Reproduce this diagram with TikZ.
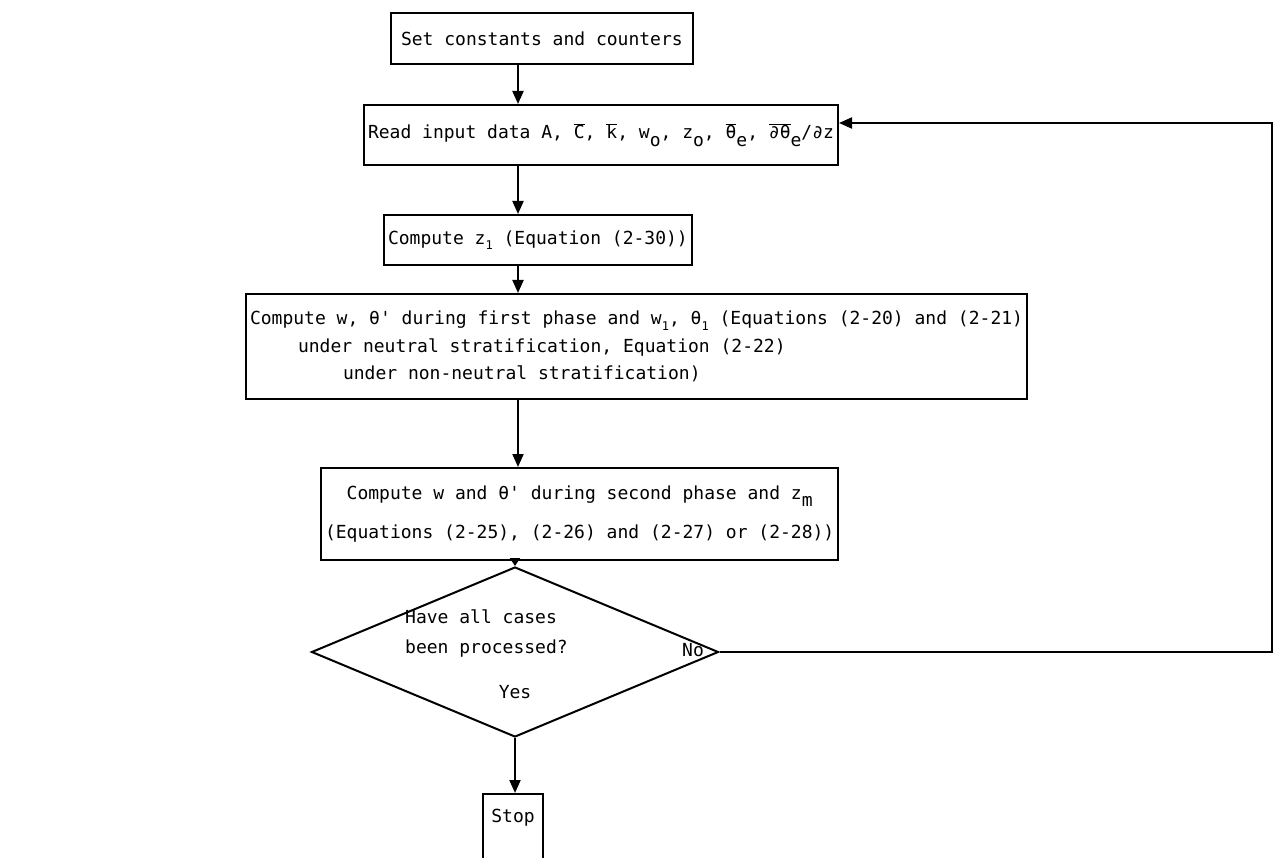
\documentclass[tikz,border=0pt]{standalone}
\usepackage{fontspec}
\setmonofont{DejaVu Sans Mono}
\usetikzlibrary{arrows.meta,shapes.geometric}
\newcommand{\ob}[1]{$\overline{\mbox{#1}}$}
\newcommand{\tsub}[1]{\raisebox{-0.42em}{#1}}
\newcommand{\smsub}[1]{\raisebox{-0.3em}{\fontsize{12}{12}\selectfont #1}}
\tikzset{
  ln/.style={line width=2pt},
  box/.style={draw, ln, font=\fontsize{18}{27.5}\selectfont\ttfamily, inner xsep=4pt, inner ysep=0pt, anchor=north west, align=left},
  txt/.style={font=\fontsize{18}{30}\selectfont\ttfamily, inner sep=0pt, align=left},
  arr/.style={ln, -{Triangle[length=13pt,width=11pt]}},
  dec/.style={draw, ln, shape=diamond, inner sep=0pt, minimum width=407pt, minimum height=170pt}
}
\begin{document}
\begin{tikzpicture}[x=1pt,y=-1pt]
\useasboundingbox (0,0) rectangle (1284,858);
\coordinate (ax) at (518,0);
\coordinate (lr) at (1272,0);
\coordinate (ly) at (0,123);

\node[box, minimum height=51pt, inner xsep=10pt] (b1) at (390,12) {Set constants and counters};
\node[box, minimum height=60pt] (b2) at (363,104) {Read input data A, \ob{C}, \ob{k}, w\tsub{o}, z\tsub{o}, \ob{θ}\tsub{e}, \ob{∂θ}\tsub{e}/∂z};
\node[box, minimum height=50pt] (b3) at (383,214) {Compute z\smsub{1} (Equation (2-30))};
\node[box, minimum height=105pt] (b4) at (245,293) {Compute w, θ' during first phase and w\smsub{1}, θ\smsub{1} (Equations (2-20) and (2-21)\\\hspace*{48pt}under neutral stratification, Equation (2-22)\\\hspace*{93pt}under non-neutral stratification)};
\node[box, minimum height=92pt, align=center] (b5) at (320,467) {Compute w and θ' during second phase and z\tsub{m}\\[12pt](Equations (2-25), (2-26) and (2-27) or (2-28))};

\node[dec] (d) at (515,652) {};
\node[txt, anchor=west] (q) at (405,633) {Have all cases\\been processed?};
\node[txt] (no) at (693,650) {No};
\node[txt] (yes) at (515,692) {Yes};

\node[draw, ln, anchor=north, font=\fontsize{18}{20}\selectfont\ttfamily, minimum width=60pt, inner xsep=3pt, inner ysep=14pt, text height=14pt, text depth=75pt] (s) at (513,793) {Stop};

\draw[arr] (b1.south -| ax) -- (b2.north -| ax);
\draw[arr] (b2.south -| ax) -- (b3.north -| ax);
\draw[arr] (b3.south -| ax) -- (b4.north -| ax);
\draw[arr] (b4.south -| ax) -- (b5.north -| ax);
\draw[ln, -{Triangle[length=8pt,width=10pt]}] (b5.south -| d.north) -- (d.north);
\draw[arr] (d.south) -- (s.north -| d.south);
\draw[arr] (d.east) -- (d.east -| lr) |- (b2.east |- ly);
\end{tikzpicture}
\end{document}
